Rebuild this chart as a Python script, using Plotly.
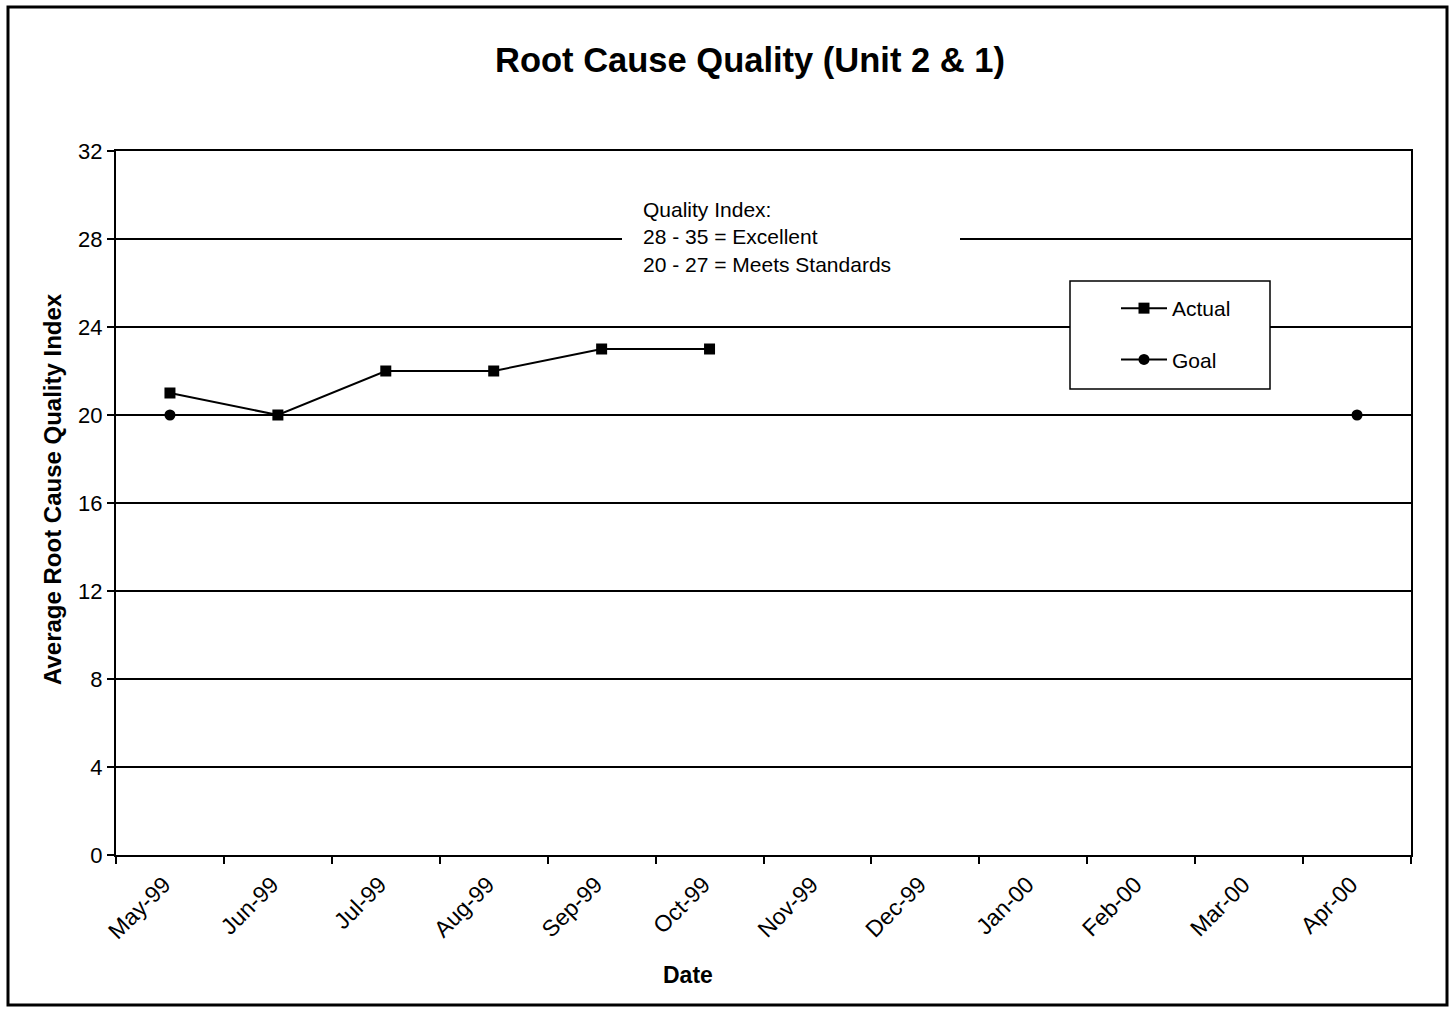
import plotly.graph_objects as go

months = ["May-99", "Jun-99", "Jul-99", "Aug-99", "Sep-99", "Oct-99",
          "Nov-99", "Dec-99", "Jan-00", "Feb-00", "Mar-00", "Apr-00"]
actual = [21, 20, 22, 22, 23, 23, None, None, None, None, None, None]
goal = [20, None, None, None, None, None, None, None, None, None, None, 20]
y_ticks = [0, 4, 8, 12, 16, 20, 24, 28, 32]
note_lines = ["Quality Index:", "28 - 35 = Excellent", "20 - 27 = Meets Standards"]

W, H = 1453, 1011
L, R, T, B = 116, 1411, 151, 855
FONT = "Liberation Sans, Arial, sans-serif"

def px_x(px):
    return (px - L) / (R - L)

def px_y(py):
    return (B - py) / (B - T)

fig = go.Figure()
fig.add_trace(go.Scatter(
    x=months, y=actual, name="Actual", mode="lines+markers",
    line=dict(color="black", width=2),
    marker=dict(symbol="square", size=11, color="black"),
    legendgroup="a",
))
fig.add_trace(go.Scatter(
    x=months, y=goal, name="Goal", mode="lines+markers", connectgaps=True,
    line=dict(color="black", width=2),
    marker=dict(symbol="circle", size=11, color="black"),
    legendgroup="g",
))

shapes = [
    # outer border
    dict(type="rect", xref="paper", yref="paper",
         x0=px_x(8), x1=px_x(1447), y0=px_y(1005), y1=px_y(7),
         line=dict(color="black", width=3), fillcolor="rgba(0,0,0,0)", layer="above"),
    # white box behind note text
    dict(type="rect", xref="paper", yref="paper",
         x0=px_x(622), x1=px_x(960), y0=px_y(282), y1=px_y(194),
         line=dict(width=0), fillcolor="white", layer="above"),
    # legend box
    dict(type="rect", xref="paper", yref="paper",
         x0=px_x(1070), x1=px_x(1270), y0=px_y(389), y1=px_y(281),
         line=dict(color="black", width=1.5), fillcolor="white", layer="above"),
]

annotations = [
    dict(text="<br>".join(note_lines), xref="paper", yref="paper",
         x=px_x(641), y=px_y(196), xanchor="left", yanchor="top", align="left",
         showarrow=False, font=dict(family=FONT, size=21, color="black")),
    dict(text="<b>Average Root Cause Quality Index</b>", xref="paper", yref="paper",
         x=px_x(52), y=px_y(489), xanchor="center", yanchor="middle", textangle=-90,
         showarrow=False, font=dict(family=FONT, size=24, color="black")),
    dict(text="<b>Date</b>", xref="paper", yref="paper",
         x=px_x(688), y=px_y(975), xanchor="center", yanchor="middle",
         showarrow=False, font=dict(family=FONT, size=23, color="black")),
]

fig.update_layout(
    width=W, height=H,
    margin=dict(l=L, r=W - R, t=T, b=H - B, pad=0),
    paper_bgcolor="white", plot_bgcolor="white",
    font=dict(family=FONT, size=21, color="black"),
    title=dict(text="<b>Root Cause Quality (Unit 2 &amp; 1)</b>",
               x=750 / W, y=1 - 60 / H, xanchor="center", yanchor="middle",
               font=dict(family=FONT, size=34.5, color="black")),
    showlegend=True,
    legend=dict(x=px_x(1116), y=px_y(288), xanchor="left", yanchor="top",
                bgcolor="rgba(0,0,0,0)", borderwidth=0, itemwidth=46,
                tracegroupgap=21, traceorder="grouped",
                font=dict(family=FONT, size=21, color="black")),
    shapes=shapes,
    annotations=annotations,
    xaxis=dict(type="category", range=[-0.5, 11.5], categoryorder="array",
               categoryarray=months, tickangle=-45, tickson="boundaries",
               ticks="outside", ticklen=7, tickwidth=1.5, tickcolor="black",
               ticklabelshift=-6, ticklabelstandoff=5,
               showline=True, linecolor="black", linewidth=2, mirror=True,
               showgrid=False, zeroline=False,
               tickfont=dict(family=FONT, size=23, color="black")),
    yaxis=dict(range=[0, 32], tickvals=y_ticks, ticks="outside", ticklen=7,
               tickwidth=1.5, tickcolor="black",
               showline=True, linecolor="black", linewidth=2, mirror=True,
               showgrid=True, gridcolor="black", gridwidth=1.5, zeroline=False,
               tickfont=dict(family=FONT, size=22, color="black")),
)

fig.write_html("out.html", config={"displayModeBar": False},
               post_script="document.body.style.margin='0';")
